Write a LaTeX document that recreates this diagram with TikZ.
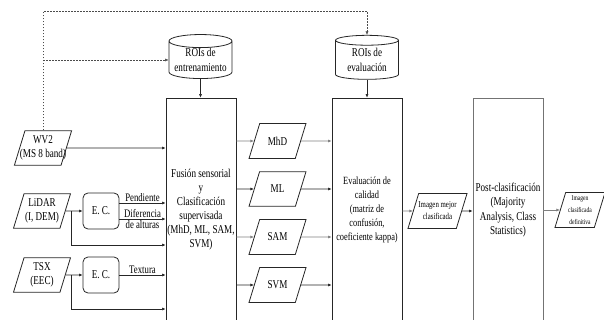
\documentclass[tikz,border=0pt]{standalone}
\usepackage{fontspec}
\setmainfont[FakeStretch=0.76]{Liberation Serif}
\usetikzlibrary{arrows.meta,positioning,shapes.geometric}
\tikzset{
  flowarrow/.style={-{Latex[length=3.5pt,width=3pt]}, line width=0.6pt, draw=black!85},
  softarrow/.style={flowarrow, draw=black!50},
  roiarrow/.style={-{Latex[length=3.5pt,width=3pt]}, line width=0.45pt,
    dash pattern=on 1.6pt off 1.4pt, draw=black!70},
  datain/.style={trapezium, trapezium left angle=73, trapezium right angle=107,
    trapezium stretches body=true, draw=black!85, line width=0.8pt, minimum width=57pt,
    inner xsep=0pt, inner ysep=5pt, align=center,
    font=\fontsize{12}{14}\selectfont},
  oneline/.style={inner ysep=13.4pt},
  ecbox/.style={draw=black!85, line width=0.8pt, rounded corners=5pt, minimum width=36pt,
    minimum height=36pt, align=center, font=\fontsize{12}{14}\selectfont},
  roidb/.style={cylinder, shape border rotate=90, aspect=0.25, draw=black!85, line width=0.8pt,
    minimum width=63pt, minimum height=44pt, inner sep=0pt, align=center,
    font=\fontsize{12}{15}\selectfont},
  stagebox/.style={draw=black!85, line width=0.8pt, minimum width=70pt, minimum height=224pt,
    inner sep=0pt, align=center, font=\fontsize{12}{14}\selectfont},
  edgelabel/.style={font=\fontsize{11.5}{13}\selectfont, inner sep=1pt}
}
\begin{document}
\begin{tikzpicture}[x=1pt,y=-1pt]
    \useasboundingbox (0,0) rectangle (604,320);

    % entradas
    \node[datain, inner xsep=-5pt] (wvii) at (43,148) {WV2\\(MS 8 band)};
    \node[datain] (lidar) at (42,211) {LiDAR\\(I, DEM)};
    \node[datain] (tsx) at (42,275) {TSX\\(EEC)};
    \node[ecbox] (ecl) at (101,211) {E. C.};
    \node[ecbox] (ect) at (101,275) {E. C.};

    % ROIs
    \node[roidb] (roient) at (200.5,60) {ROIs de\\entrenamiento};
    \node[roidb] (roieval) at (367,60) {ROIs de\\evaluación};

    % etapas
    \node[stagebox] (fusion) at (201,210)
        {Fusión sensorial\\y\\Clasificación\\supervisada\\(MhD, ML, SAM,\\SVM)};
    \node[stagebox, font=\fontsize{11}{14}\selectfont] (evalbox) at (367,210)
        {Evaluación de\\calidad\\(matriz de\\confusión,\\coeficiente kappa)};
    \node[stagebox, draw=black!55, font=\fontsize{12}{14.5}\selectfont] (postbox) at (508,210)
        {Post-clasificación\\(Majority\\Analysis, Class\\Statistics)};

    % clasificadores
    \node[datain, oneline] (mhd) at (277.5,141) {MhD};
    \node[datain, oneline] (ml) at (277.5,189) {ML};
    \node[datain, oneline] (sam) at (277.5,237) {SAM};
    \node[datain, oneline] (svm) at (277.5,285) {SVM};

    % salidas
    \node[datain, minimum width=59pt, inner xsep=-1.5pt, inner ysep=8.4pt,
        font=\fontsize{9}{12}\selectfont] (mejor) at (437.5,211) {Imagen mejor\\clasificada};
    \node[datain, minimum width=50pt, inner ysep=3pt, font=\fontsize{7.3}{12}\selectfont]
        (final) at (580,210) {Imagen\\clasificada\\definitiva};

    % conexiones de entrada
    \draw[flowarrow] (wvii) -- (wvii -| fusion.west);
    \draw[flowarrow] (lidar) -- (ecl);
    \draw[flowarrow] (tsx) -- (ect);

    \coordinate (lidartap) at ([xshift=6pt]lidar.east);
    \coordinate (tsxtap) at ([xshift=6pt]tsx.east);
    \draw[flowarrow] (lidartap) |- ([yshift=-34pt]lidartap -| fusion.west);
    \draw[flowarrow] (tsxtap) |- ([yshift=-34pt]tsxtap -| fusion.west);

    \draw[flowarrow] ([yshift=8pt]ecl.east) -- ([yshift=8pt]ecl.east -| fusion.west)
        node[midway, above, edgelabel] {Pendiente};
    \draw[flowarrow] ([yshift=-8pt]ecl.east) -- ([yshift=-8pt]ecl.east -| fusion.west)
        node[midway, above, edgelabel] {Diferencia}
        node[midway, below, edgelabel] {de alturas};
    \draw[flowarrow] (ect) -- (ect -| fusion.west)
        node[midway, above, edgelabel] {Textura};

    % ROIs
    \coordinate (dashtop) at ([yshift=119pt]wvii.north);
    \draw[roiarrow] (wvii.north) -- (dashtop) -| (roieval.north);
    \draw[roiarrow] (wvii.north |- roient.west) -- (roient.west);
    \draw[flowarrow, line width=0.5pt] (roient.south) -- (roient.south |- fusion.north);
    \draw[flowarrow, line width=0.5pt] (roieval.south) -- (roieval.south |- evalbox.north);

    % clasificadores
    \foreach \c/\col in {mhd/black!50, ml/black!85, sam/black!50, svm/black!85} {
        \draw[flowarrow, draw=\col] (\c -| fusion.east) -- (\c);
        \draw[flowarrow, draw=\col] (\c) -- (\c -| evalbox.west);
    }

    % salidas
    \draw[softarrow] (mejor -| evalbox.east) -- (mejor);
    \draw[flowarrow] (mejor) -- (mejor -| postbox.west);
    \draw[softarrow] (final -| postbox.east) -- (final);
\end{tikzpicture}
\end{document}
